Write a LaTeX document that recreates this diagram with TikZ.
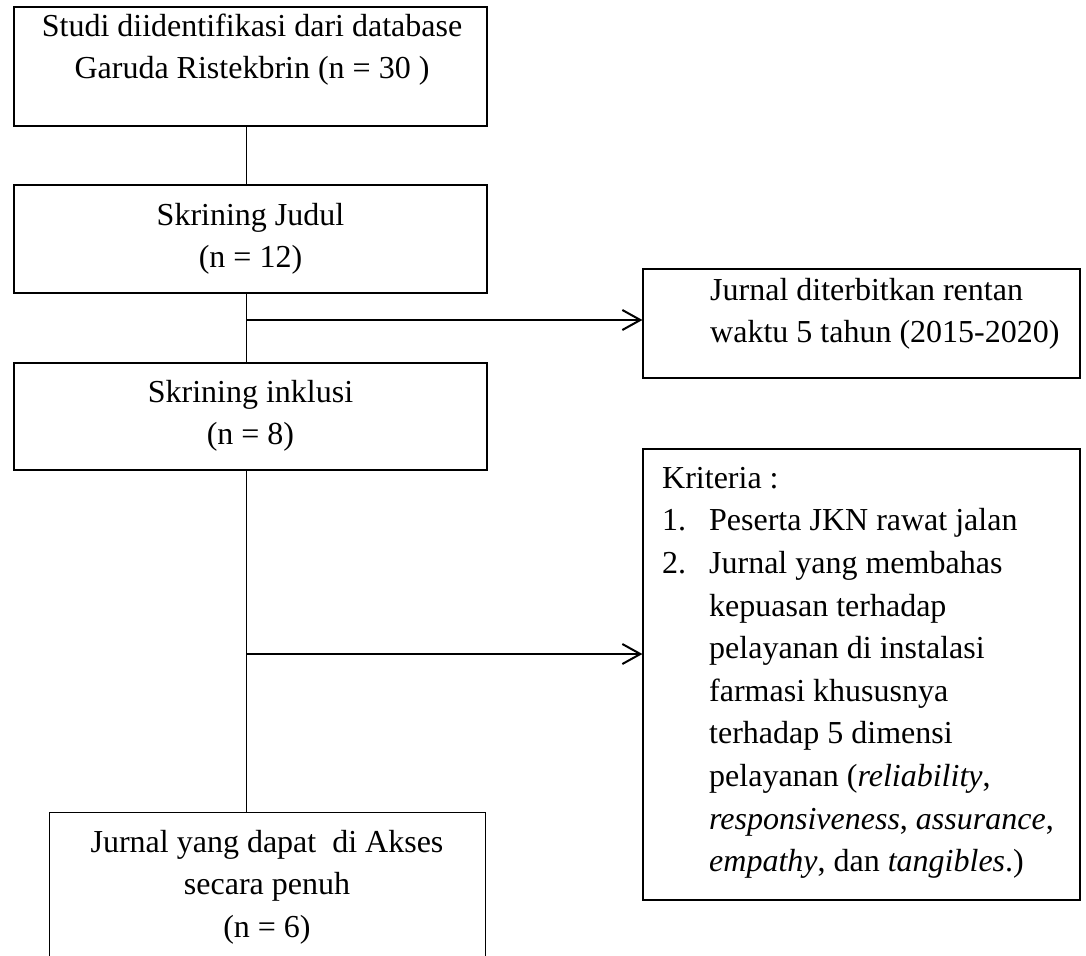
\documentclass[tikz,border=0pt]{standalone}
\usepackage{fontspec}
\setmainfont{Liberation Serif}
\usetikzlibrary{arrows.meta}
\newcommand\fs{\fontsize{32}{42.6}\selectfont}
\newcommand\mystrut{\rule{0pt}{23pt}}
\tikzset{
  box/.style={draw, line width=1.2pt, rectangle, inner sep=0pt},
  txt/.style={inner sep=0pt, font=\fs},
  conn/.style={line width=1pt},
  arr/.style={line width=2pt, -{Straight Barb[length=18pt,width=20pt,line width=2pt]}}
}
\begin{document}
\begin{tikzpicture}[x=1pt,y=-1pt]
\useasboundingbox (0,0) rectangle (1086,955);
% boxes
\node[box, minimum width=473pt, minimum height=119pt] (b1) at (250.5,66.5) {};
\node[box, minimum width=473pt, minimum height=108pt] (b2) at (250.5,239) {};
\node[box, minimum width=473pt, minimum height=107pt] (b4) at (250.5,416.5) {};
\node[box, minimum width=437pt, minimum height=109pt] (b3) at (861.5,323.5) {};
\node[box, minimum width=437pt, minimum height=451pt] (b5) at (861.5,674.5) {};
\node[inner sep=0pt, minimum width=435pt, minimum height=160pt] (b6) at (267.5,893) {};
\draw[line width=1.2pt] (b6.south west) -- (b6.north west) -- (b6.north east) -- (b6.south east);
% texts
\node[txt, align=center, anchor=north] (t1) at (252,13) {\mystrut Studi diidentifikasi dari database\\Garuda Ristekbrin (n = 30 )};
\node[txt, align=center, anchor=north] (t2) at (250.5,202) {\mystrut Skrining Judul\\(n = 12)};
\node[txt, align=center, anchor=north] (t4) at (250.5,379) {\mystrut Skrining inklusi\\(n = 8)};
\node[txt, align=left, anchor=north west] (t3) at (710,277) {\mystrut Jurnal diterbitkan rentan\\waktu 5 tahun (2015-2020)};
\node[txt, align=left, anchor=north west] (t5) at (662,465) {\mystrut Kriteria :\\
\makebox[47pt][l]{1.}Peserta JKN rawat jalan\\
\makebox[47pt][l]{2.}Jurnal yang membahas\\
\hspace*{47pt}kepuasan terhadap\\
\hspace*{47pt}pelayanan di instalasi\\
\hspace*{47pt}farmasi khususnya\\
\hspace*{47pt}terhadap 5 dimensi\\
\hspace*{47pt}pelayanan (\textit{reliability},\\
\hspace*{47pt}\textit{responsiveness}, \textit{assurance},\\
\hspace*{47pt}\textit{empathy}, dan \textit{tangibles}.)};
\node[txt, align=center, anchor=north] (t6) at (267,829) {\mystrut Jurnal yang dapat~ di Akses\\secara penuh\\(n = 6)};
% connectors
\coordinate (cx) at (246,0);
\coordinate (j1) at (246,320);
\coordinate (j2) at (246,654);
\draw[conn] (b1.south -| cx) -- (b2.north -| cx);
\draw[conn] (b2.south -| cx) -- (b4.north -| cx);
\draw[conn] (b4.south -| cx) -- (b6.north -| cx);
\draw[arr] (j1) -- (j1 -| b3.west);
\draw[arr] (j2) -- (j2 -| b5.west);
\end{tikzpicture}
\end{document}
